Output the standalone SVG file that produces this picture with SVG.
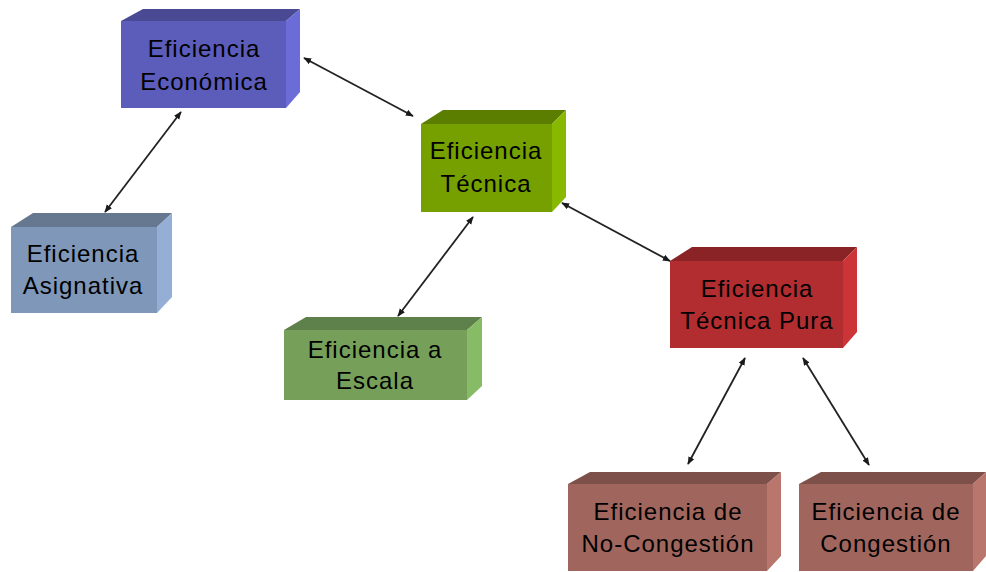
<svg xmlns="http://www.w3.org/2000/svg" width="986" height="572" viewBox="0 0 986 572">
<defs>
<marker id="ah" viewBox="0 0 10 10" refX="9" refY="5" markerWidth="8" markerHeight="8" orient="auto-start-reverse" markerUnits="userSpaceOnUse">
<path d="M0,1 L10,5 L0,9 Z" fill="#1a1a1a"/>
</marker>
</defs>
<style>
text{font-family:"Liberation Sans",Arial,sans-serif;font-size:24px;letter-spacing:1px;fill:#000;text-anchor:middle}
.c line{stroke:#222;stroke-width:1.8;marker-start:url(#ah);marker-end:url(#ah)}
</style>
<rect width="986" height="572" fill="#fff"/>
<g class="c" id="connectors">
<line x1="304" y1="58" x2="413" y2="116"/>
<line x1="181" y1="112" x2="105" y2="212"/>
<line x1="473" y1="217" x2="398" y2="316"/>
<line x1="562" y1="203" x2="670" y2="261"/>
<line x1="745" y1="358" x2="688" y2="464"/>
<line x1="803" y1="358" x2="869" y2="465"/>
</g>
<g id="economica">
<polygon points="121,21 143,9 300,9 286,21" fill="#494994"/>
<polygon points="286,21 300,9 300,92 286,108" fill="#6c6cd8"/>
<rect x="121" y="21" width="165" height="87" fill="#5c5cbb"/>
<text x="204" y="57">Eficiencia</text>
<text x="204" y="90">Económica</text>
</g>
<g id="asignativa">
<polygon points="11,227 33,213 172,213 157,227" fill="#66788f"/>
<polygon points="157,227 172,213 172,297 157,313" fill="#94aed6"/>
<rect x="11" y="227" width="146" height="86" fill="#7f97b8"/>
<text x="83" y="262">Eficiencia</text>
<text x="83" y="294">Asignativa</text>
</g>
<g id="tecnica">
<polygon points="421,124 443,110 566,110 552,124" fill="#5c7e00"/>
<polygon points="552,124 566,110 566,197 552,212" fill="#88b800"/>
<rect x="421" y="124" width="131" height="88" fill="#76a000"/>
<text x="486" y="159">Eficiencia</text>
<text x="486" y="192">Técnica</text>
</g>
<g id="escala">
<polygon points="284,330 306,317 482,317 467,330" fill="#5e804a"/>
<polygon points="467,330 482,317 482,386 467,400" fill="#88bb66"/>
<rect x="284" y="330" width="183" height="70" fill="#76a05a"/>
<text x="375" y="358">Eficiencia a</text>
<text x="375" y="389">Escala</text>
</g>
<g id="pura">
<polygon points="670,261 692,247 857,247 843,261" fill="#8a2326"/>
<polygon points="843,261 857,247 857,332 843,348" fill="#cc3437"/>
<rect x="670" y="261" width="173" height="87" fill="#b12d30"/>
<text x="757" y="297">Eficiencia</text>
<text x="757" y="329">Técnica Pura</text>
</g>
<g id="nocongestion">
<polygon points="568,484 590,472 781,472 767,484" fill="#7e504a"/>
<polygon points="767,484 781,472 781,556 767,571" fill="#b8766d"/>
<rect x="568" y="484" width="199" height="87" fill="#a0665e"/>
<text x="668" y="520">Eficiencia de</text>
<text x="668" y="552">No-Congestión</text>
</g>
<g id="congestion">
<polygon points="799,484 821,472 986,472 973,484" fill="#7e504a"/>
<polygon points="973,484 986,472 986,556 973,571" fill="#b8766d"/>
<rect x="799" y="484" width="174" height="87" fill="#a0665e"/>
<text x="886" y="520">Eficiencia de</text>
<text x="886" y="552">Congestión</text>
</g>
</svg>
